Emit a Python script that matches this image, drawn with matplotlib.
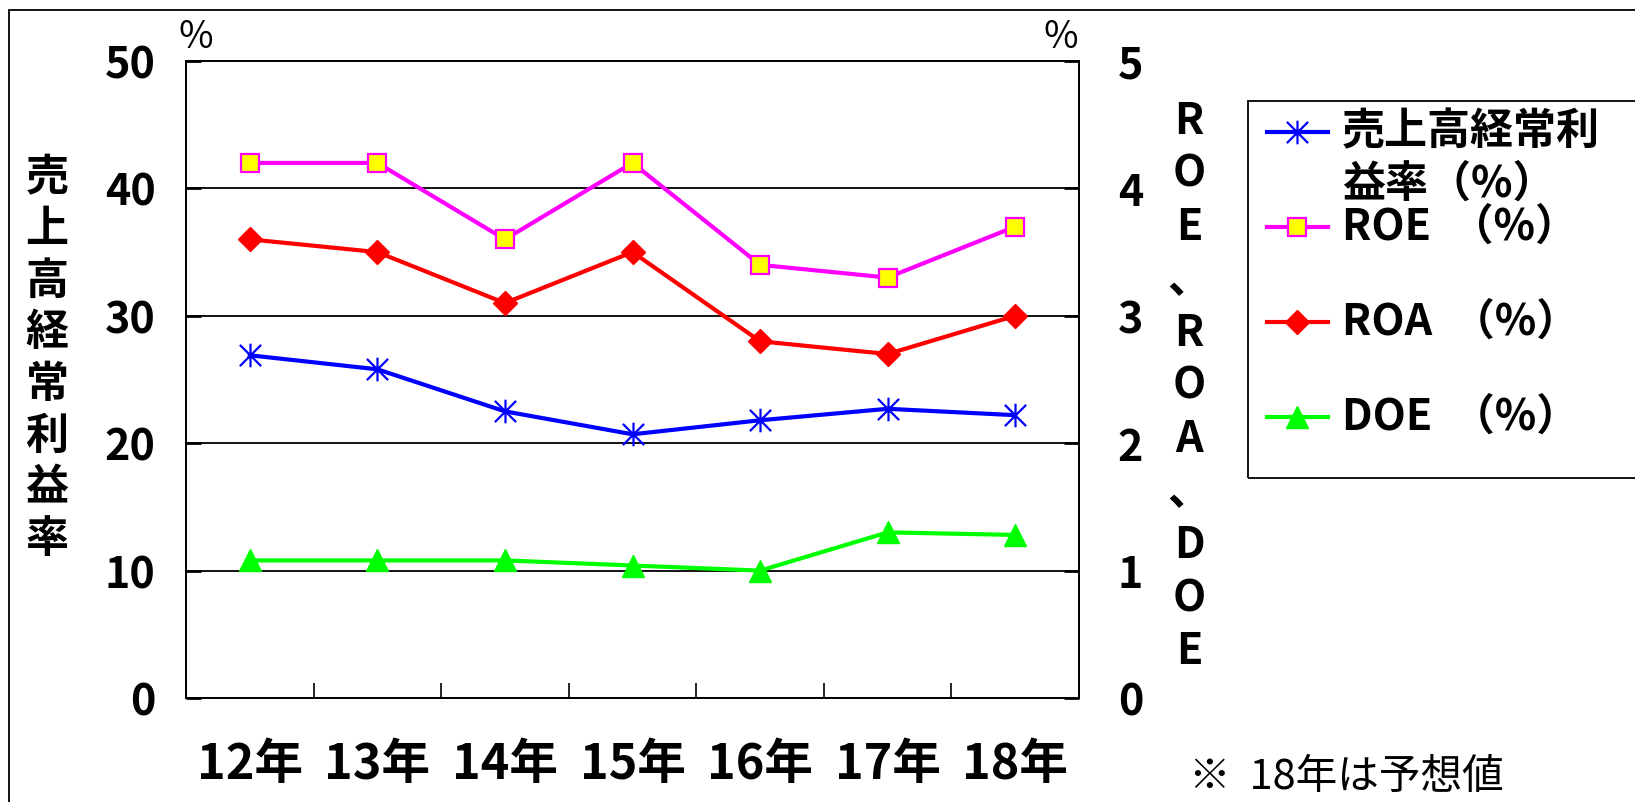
import numpy as np
import matplotlib.pyplot as plt
from matplotlib.lines import Line2D
from matplotlib.patches import Rectangle
from matplotlib.path import Path

plt.rcParams['font.family'] = ['Noto Sans CJK JP', 'DejaVu Sans']

# data
years = ['12年', '13年', '14年', '15年', '16年', '17年', '18年']
keijo = [26.9, 25.8, 22.5, 20.7, 21.8, 22.7, 22.2]   # left axis
roe = [4.2, 4.2, 3.6, 4.2, 3.4, 3.3, 3.7]           # right axis
roa = [3.6, 3.5, 3.1, 3.5, 2.8, 2.7, 3.0]
doe = [1.08, 1.08, 1.08, 1.04, 1.0, 1.3, 1.28]

W, H = 1635, 802


def fx(x):
    return x / W


def fy(y):
    return 1 - y / H


# asterisk marker: vertical line + X
star = Path([(0, -1), (0, 1), (-0.9, -0.9), (0.9, 0.9), (-0.9, 0.9), (0.9, -0.9)],
            [Path.MOVETO, Path.LINETO, Path.MOVETO, Path.LINETO, Path.MOVETO, Path.LINETO])

styles = [
    dict(color='#0000FF', marker=star, ms=17, mew=1.6, mfc='none', mec='#0000FF'),
    dict(color='#FF00FF', marker='s', ms=13, mew=1.6, mfc='#FFFF00', mec='#FF00FF'),
    dict(color='#FF0000', marker='D', ms=12, mew=1, mfc='#FF0000', mec='#FF0000'),
    dict(color='#00FF00', marker='^', ms=16, mew=1, mfc='#00FF00', mec='#00FF00'),
]
labels = ['売上高経常利\n益率（%）', 'ROE  （%）', 'ROA  （%）', 'DOE  （%）']

fig = plt.figure(figsize=(W / 100, H / 100), dpi=100)
ax = fig.add_axes([fx(186), fy(698), fx(1079) - fx(186), fy(61) - fy(698)])
ax2 = ax.twinx()

x = np.arange(len(years))
ax.plot(x, keijo, lw=3, zorder=5, **styles[0])
ax2.plot(x, roe, lw=3, zorder=5, **styles[1])
ax2.plot(x, roa, lw=3, zorder=5, **styles[2])
ax2.plot(x, doe, lw=3, zorder=5, **styles[3])

ax.set_xlim(-0.5, 6.5)
ax.set_ylim(0, 50)
ax2.set_ylim(0, 5)
ax.set_yticks(range(0, 51, 10))
ax2.set_yticks(range(0, 6))
for y in range(10, 50, 10):
    ax.axhline(y, color='black', lw=1.3, zorder=1)

ax.set_xticks(x)
ax.set_xticklabels(years, fontsize=35, fontweight='bold')
ax.set_xticks(np.arange(-0.5, 7, 1), minor=True)
ax.tick_params(axis='x', which='major', length=0, pad=30)
ax.tick_params(axis='x', which='minor', direction='in', length=11, width=1.2)
ax.tick_params(axis='y', direction='in', length=11, width=2, pad=22, labelsize=31)
ax2.tick_params(axis='y', direction='in', length=11, width=2, pad=28, labelsize=31)
for t in ax.get_yticklabels() + ax2.get_yticklabels():
    t.set_fontweight('bold')
for a in (ax, ax2):
    for s in a.spines.values():
        s.set_linewidth(1.3)

# axis titles, stacked vertically
fig.text(fx(47), fy(358), '\n'.join('売上高経常利益率'), fontsize=31, fontweight='bold',
         ha='center', va='center', linespacing=1.22)
fig.text(fx(1189), fy(386), '\n'.join('ROE、ROA、DOE'), fontsize=31, fontweight='bold',
         ha='center', va='center', linespacing=1.26)
fig.text(fx(196), fy(37), '%', fontsize=27, ha='center', va='center')
fig.text(fx(1061), fy(37), '%', fontsize=27, ha='center', va='center')
fig.text(fx(1189), fy(777), '※  18年は予想値', fontsize=30, ha='left', va='center')

# legend drawn by hand
fig.add_artist(Rectangle((fx(1248), fy(478)), 0.5, fy(101) - fy(478), transform=fig.transFigure,
                         fill=False, ec='black', lw=1.3))
rows = [132, 227, 322, 417]
for st, lab, yy in zip(styles, labels, rows):
    fig.add_artist(Line2D([fx(1267), fx(1328)], [fy(yy), fy(yy)], lw=3,
                          color=st['color'], transform=fig.transFigure))
    mk = {k: v for k, v in st.items() if k != 'color'}
    fig.add_artist(Line2D([fx(1297)], [fy(yy)], ls='none', transform=fig.transFigure, **mk))
    ty = yy + 25.5 if '\n' in lab else yy
    fig.text(fx(1342), fy(ty), lab, fontsize=31, fontweight='bold', ha='left', va='center',
             linespacing=1.22)

# outer frame
fig.add_artist(Rectangle((fx(9), -0.1), 2, fy(10) + 0.1, transform=fig.transFigure,
                         fill=False, ec='black', lw=1.3))

fig.savefig('out.png', dpi=100)
